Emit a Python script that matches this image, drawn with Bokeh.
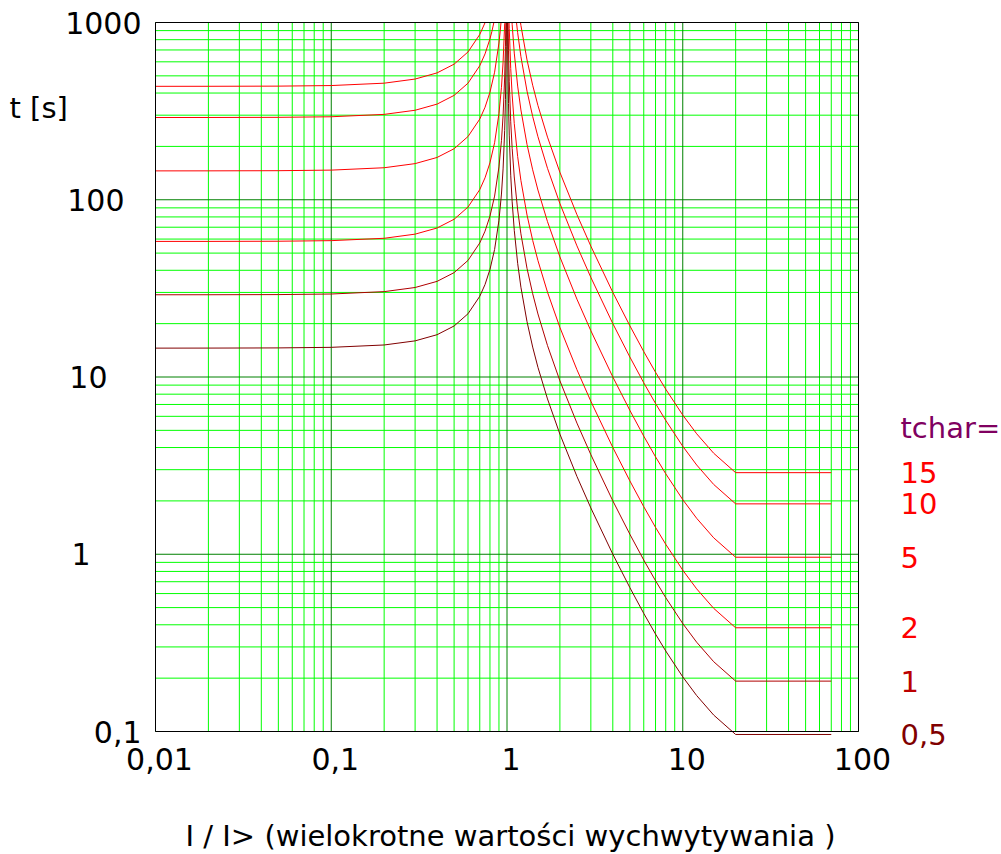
from bokeh.plotting import figure
from bokeh.core.properties import value
from bokeh.embed import file_html
from bokeh.resources import INLINE

# ---------------- data ----------------
x_tick_values = [0.01, 0.1, 1, 10, 100]
x_tick_labels = ["0,01", "0,1", "1", "10", "100"]
y_tick_values = [0.1, 1, 10, 100, 1000]
y_tick_labels = ["0,1", "1", "10", "100", "1000"]
x_minor_values = [0.02, 0.03, 0.04, 0.05, 0.06, 0.07, 0.08, 0.09,
                  0.2, 0.3, 0.4, 0.5, 0.6, 0.7, 0.8, 0.9,
                  2, 3, 4, 5, 6, 7, 8, 9,
                  20, 30, 40, 50, 60, 70, 80, 90]
y_minor_values = [0.2, 0.3, 0.4, 0.5, 0.6, 0.7, 0.8, 0.9,
                  2, 3, 4, 5, 6, 7, 8, 9,
                  20, 30, 40, 50, 60, 70, 80, 90,
                  200, 300, 400, 500, 600, 700, 800, 900]

tchar_names = ["0,5", "1", "2", "5", "10", "15"]

# branch below pick-up (I < 1), each ending where it leaves the chart at t = 1000
I_below_05 = [0.01, 0.02, 0.05, 0.1, 0.2, 0.3, 0.4, 0.5, 0.6, 0.7, 0.75, 0.8,
              0.85, 0.9, 0.93, 0.95, 0.97, 0.98, 0.99, 0.9927]
t_below_05 = [14.55, 14.56, 14.59, 14.70, 15.16, 15.99, 17.32, 19.40, 22.74, 28.53,
              33.26, 40.42, 52.43, 76.58, 107.70, 149.23, 246.20, 367.43, 731.16, 1000]
I_below_1 = [0.01, 0.02, 0.05, 0.1, 0.2, 0.3, 0.4, 0.5, 0.6, 0.7, 0.75, 0.8,
             0.85, 0.9, 0.93, 0.95, 0.97, 0.98, 0.9853]
t_below_1 = [29.10, 29.11, 29.17, 29.39, 30.31, 31.98, 34.64, 38.80, 45.47, 57.06,
             66.51, 80.83, 104.86, 153.16, 215.40, 298.46, 492.39, 734.85, 1000]
I_below_2 = [0.01, 0.02, 0.05, 0.1, 0.2, 0.3, 0.4, 0.5, 0.6, 0.7, 0.75, 0.8,
             0.85, 0.9, 0.93, 0.95, 0.97, 0.9705]
t_below_2 = [58.20, 58.22, 58.34, 58.78, 60.62, 63.96, 69.28, 77.60, 90.94, 114.12,
             133.02, 161.66, 209.72, 306.32, 430.80, 596.92, 984.78, 1000]
I_below_5 = [0.01, 0.02, 0.05, 0.1, 0.2, 0.3, 0.4, 0.5, 0.6, 0.7, 0.75, 0.8,
             0.85, 0.9, 0.915, 0.9244]
t_below_5 = [145.5, 145.55, 145.85, 146.95, 151.55, 159.9, 173.2, 194.0, 227.35, 285.3,
             332.55, 404.15, 524.3, 765.8, 893.9, 1000]
I_below_10 = [0.01, 0.02, 0.05, 0.1, 0.2, 0.3, 0.4, 0.5, 0.6, 0.7, 0.75, 0.8,
              0.82, 0.842]
t_below_10 = [291.0, 291.1, 291.7, 293.9, 303.1, 319.8, 346.4, 388.0, 454.7, 570.6,
              665.1, 808.3, 888.3, 1000]
I_below_15 = [0.01, 0.02, 0.05, 0.1, 0.2, 0.3, 0.4, 0.5, 0.6, 0.7, 0.75, 0.7507]
t_below_15 = [436.5, 436.65, 437.55, 440.85, 454.65, 479.7, 519.6, 582.0, 682.05, 855.9,
              997.65, 1000]

# branch above pick-up (I > 1), starting where it enters the chart at t = 1000
I_above_05 = [1.007, 1.01, 1.02, 1.03, 1.05, 1.07, 1.1, 1.15, 1.2, 1.3, 1.4, 1.5,
              1.7, 2, 2.5, 3, 4, 5, 6, 7, 8, 10, 12, 15, 20, 70]
t_above_05 = [1000, 701.56, 349.07, 231.59, 137.62, 97.37, 67.21, 43.78, 32.11, 20.50,
              14.75, 11.34, 7.52, 4.761, 2.747, 1.824, 1.001, 0.6485, 0.4637, 0.3546,
              0.2847, 0.2033, 0.1595, 0.1238, 0.0962, 0.0962]
I_above_1 = [1.014, 1.02, 1.03, 1.05, 1.07, 1.1, 1.15, 1.2, 1.3, 1.4, 1.5,
             1.7, 2, 2.5, 3, 4, 5, 6, 7, 8, 10, 12, 15, 20, 70]
t_above_1 = [1000, 698.14, 463.18, 275.24, 194.74, 134.41, 87.56, 64.21, 40.99,
             29.50, 22.68, 15.04, 9.522, 5.493, 3.647, 2.002, 1.297, 0.9274, 0.7092,
             0.5693, 0.4065, 0.3189, 0.2476, 0.1924, 0.1924]
I_above_2 = [1.0278, 1.03, 1.05, 1.07, 1.1, 1.15, 1.2, 1.3, 1.4, 1.5,
             1.7, 2, 2.5, 3, 4, 5, 6, 7, 8, 10, 12, 15, 20, 70]
t_above_2 = [1000, 926.36, 550.48, 389.48, 268.82, 175.12, 128.42, 81.98,
             59.00, 45.36, 30.08, 19.04, 10.99, 7.294, 4.004, 2.594, 1.855, 1.418,
             1.139, 0.813, 0.6378, 0.4952, 0.3848, 0.3848]
I_above_5 = [1.0682, 1.07, 1.1, 1.15, 1.2, 1.3, 1.4, 1.5,
             1.7, 2, 2.5, 3, 4, 5, 6, 7, 8, 10, 12, 15, 20, 70]
t_above_5 = [1000, 973.7, 672.05, 437.8, 321.05, 204.95,
             147.5, 113.4, 75.2, 47.61, 27.47, 18.24, 10.01, 6.485, 4.637, 3.546,
             2.847, 2.033, 1.595, 1.238, 0.962, 0.962]
I_above_10 = [1.1324, 1.15, 1.2, 1.3, 1.4, 1.5,
              1.7, 2, 2.5, 3, 4, 5, 6, 7, 8, 10, 12, 15, 20, 70]
t_above_10 = [1000, 875.6, 642.1, 409.9,
              295.0, 226.8, 150.4, 95.22, 54.93, 36.47, 20.02, 12.97, 9.274, 7.092,
              5.693, 4.065, 3.189, 2.476, 1.924, 1.924]
I_above_15 = [1.1932, 1.2, 1.3, 1.4, 1.5,
              1.7, 2, 2.5, 3, 4, 5, 6, 7, 8, 10, 12, 15, 20, 70]
t_above_15 = [1000, 963.15, 614.85,
              442.5, 340.2, 225.6, 142.83, 82.40, 54.71, 30.03, 19.46, 13.91, 10.64,
              8.540, 6.098, 4.784, 3.714, 2.886, 2.886]

below = [(I_below_05, t_below_05), (I_below_1, t_below_1), (I_below_2, t_below_2),
         (I_below_5, t_below_5), (I_below_10, t_below_10), (I_below_15, t_below_15)]
above = [(I_above_05, t_above_05), (I_above_1, t_above_1), (I_above_2, t_above_2),
         (I_above_5, t_above_5), (I_above_10, t_above_10), (I_above_15, t_above_15)]

x_title = "I / I> (wielokrotne wartości wychwytywania )"
y_title = "t [s]"
legend_title = "tchar="

# ---------------- layout / styles ----------------
FONT = "DejaVu Sans"
FS = "29px"
TICK_FS = "30px"
curve_colors = ["#800000", "#b00000", "#ff0000", "#ff0000", "#ff0000", "#ff0000"]
label_colors = ["#800000", "#bb0000", "#ff0000", "#ff0000", "#ff0000", "#ff0000"]
MAJOR_GRID = "#008000"
MINOR_GRID = "#00ff00"

# page geometry (px); the plotting frame is the whole canvas
W, H = 1000, 853
FRAME_L, FRAME_T = 155, 22
FRAME_W, FRAME_H = 703, 709
XDEC = FRAME_W / 4.0   # px per decade
YDEC = FRAME_H / 4.0
X_MIN, X_MAX = x_tick_values[0], x_tick_values[-1]
Y_MIN, Y_MAX = y_tick_values[0], y_tick_values[-1]


def page_x_to_I(px):
    return 10 ** (-2 + (px - FRAME_L) / XDEC)


def page_y_to_t(py):
    return 10 ** (3 - (py - FRAME_T) / YDEC)


p = figure(x_axis_type="log", y_axis_type="log",
           x_range=(page_x_to_I(0), page_x_to_I(W)),
           y_range=(page_y_to_t(H), page_y_to_t(0)),
           frame_width=W, frame_height=H,
           min_border_left=0, min_border_right=0, min_border_top=0, min_border_bottom=0,
           x_axis_location=None, y_axis_location=None, title_location=None,
           output_backend="svg", toolbar_location=None,
           background_fill_color="white", border_fill_color="white")
p.grid.visible = False
p.outline_line_color = None

# grid lines, limited to the chart box
nxm, nym = len(x_minor_values), len(y_minor_values)
p.segment(x0=x_minor_values, y0=[Y_MIN] * nxm, x1=x_minor_values, y1=[Y_MAX] * nxm,
          line_color=MINOR_GRID, line_width=1)
p.segment(x0=[X_MIN] * nym, y0=y_minor_values, x1=[X_MAX] * nym, y1=y_minor_values,
          line_color=MINOR_GRID, line_width=1)
nx, ny = len(x_tick_values), len(y_tick_values)
p.segment(x0=x_tick_values, y0=[Y_MIN] * nx, x1=x_tick_values, y1=[Y_MAX] * nx,
          line_color=MAJOR_GRID, line_width=1)
p.segment(x0=[X_MIN] * ny, y0=y_tick_values, x1=[X_MAX] * ny, y1=y_tick_values,
          line_color=MAJOR_GRID, line_width=1)

# characteristic curves
for (ib, tb), (ia, ta), c in zip(below, above, curve_colors):
    p.line(ib, tb, line_color=c, line_width=1)
    p.line(ia, ta, line_color=c, line_width=1)

# frame outline
p.quad(left=[X_MIN], right=[X_MAX], bottom=[Y_MIN], top=[Y_MAX],
       fill_color=None, line_color="black", line_width=1)

# y tick labels (right edges in px, as placed in the reference)
y_label_right_px = [141, 90, 107, 124, 141]
p.text(x=[page_x_to_I(v) for v in y_label_right_px], y=y_tick_values, text=y_tick_labels,
       text_color="black", text_font=value(FONT), text_font_size=value(TICK_FS),
       text_baseline="middle", text_align="right")
p.text(x=[page_x_to_I(9)], y=[page_y_to_t(107)], text=[y_title], text_color="black",
       text_font=value(FONT), text_font_size=value(FS),
       text_baseline="alphabetic", text_align="left")

# x tick labels and x title
p.text(x=x_tick_values, y=[page_y_to_t(758)] * nx, text=x_tick_labels,
       text_color="black", text_font=value(FONT), text_font_size=value(TICK_FS),
       text_baseline="alphabetic", text_align="center", x_offset=4)
p.text(x=[page_x_to_I(510)], y=[page_y_to_t(835)], text=[x_title],
       text_color="black", text_font=value(FONT), text_font_size=value(FS),
       text_baseline="alphabetic", text_align="center")

# tchar labels at the level of each curve's end
end_values = [ta[-1] for (_, ta) in above]
legend_x = page_x_to_I(900)
p.text(x=[legend_x] * len(tchar_names), y=end_values, text=tchar_names,
       text_color=label_colors, text_font=value(FONT), text_font_size=value(FS),
       text_baseline="middle", text_align="left")
p.text(x=[legend_x], y=[page_y_to_t(427)], text=[legend_title], text_color="#800060",
       text_font=value(FONT), text_font_size=value(FS),
       text_baseline="alphabetic", text_align="left")

open("out.html", "w").write(file_html(p, INLINE))
